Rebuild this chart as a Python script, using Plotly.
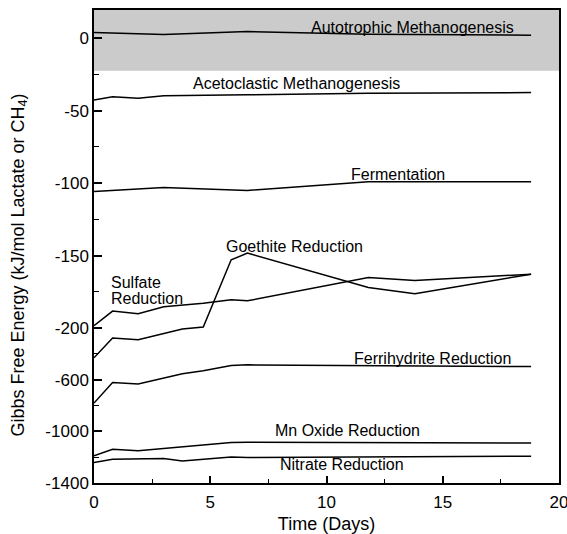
import plotly.graph_objects as go

# ---------------- data ----------------
auto_days = [0, 3.0, 6.6, 11.8, 18.8]
auto_vals = [3.9, 2.6, 4.6, 2.8, 2.1]

aceto_days = [0, 0.8, 1.9, 3.0, 6.6, 11.8, 18.8]
aceto_vals = [-42.6, -40.3, -41.4, -39.6, -39.0, -38.0, -37.5]

ferm_days = [0, 3.0, 6.6, 11.8, 18.8]
ferm_vals = [-105.8, -103.0, -105.0, -99.0, -99.0]

sulf_days = [0, 0.8, 1.9, 3.0, 4.7, 5.9, 6.6, 11.8, 13.8, 18.8]
sulf_vals = [-198.4, -188.3, -190.1, -185.3, -182.8, -180.5, -181.2, -165.1, -167.2, -162.8]

goe_days = [0, 0.8, 1.9, 3.8, 4.7, 5.9, 6.6, 11.8, 13.8, 18.8]
goe_vals = [-430, -277, -291, -208, -199.3, -152.9, -148.3, -172.0, -176.3, -162.8]

ferri_days = [0, 0.8, 1.9, 3.8, 4.7, 5.9, 6.6, 18.8]
ferri_vals = [-781, -622, -634, -554, -531, -490, -485, -498]

mn_days = [0, 0.8, 1.9, 5.9, 6.6, 18.8]
mn_vals = [-1190, -1138, -1151, -1087, -1084, -1091]

nit_days = [0, 0.8, 3.0, 3.8, 5.9, 6.6, 18.8]
nit_vals = [-1242, -1216, -1211, -1229, -1198, -1203, -1192]

y_major = [0, -50, -100, -150, -200, -600, -1000, -1400]
y_minor = [-25, -75, -125, -175, -400, -800, -1200]
x_major = [0, 5, 10, 15, 20]
x_minor = [2.5, 7.5, 12.5, 17.5]

# ---------------- broken (piecewise linear) y scale ----------------
K = 0.0891  # compression of the scale below -200


def tr(v):
    return v if v >= -200 else -200 + (v + 200) * K


series = [
    (auto_days, auto_vals),
    (aceto_days, aceto_vals),
    (ferm_days, ferm_vals),
    (sulf_days, sulf_vals),
    (goe_days, goe_vals),
    (ferri_days, ferri_vals),
    (mn_days, mn_vals),
    (nit_days, nit_vals),
]

FONT = "Liberation Sans, Arial, Helvetica, sans-serif"

fig = go.Figure()
for d, v in series:
    fig.add_trace(go.Scatter(x=d, y=[tr(a) for a in v], mode="lines",
                             line=dict(color="black", width=1.5),
                             showlegend=False, hoverinfo="skip"))

# shaded band
fig.add_shape(type="rect", xref="paper", x0=0, x1=1, yref="y", y0=-22.5, y1=19.5,
              fillcolor="#cbcbcb", line=dict(width=0), layer="below")

labels = [
    ("Autotrophic Methanogenesis", 13.68, 7.6),
    ("Acetoclastic Methanogenesis", 8.73, -31.0),
    ("Fermentation", 13.07, -94.3),
    ("Goethite Reduction", 8.62, -143.7),
    ("Ferrihydrite Reduction", 14.54, -220.7),
    ("Mn Oxide Reduction", 10.92, -270.6),
    ("Nitrate Reduction", 10.67, -294.3),
]
for t, x, y in labels:
    fig.add_annotation(text=t, x=x, y=y, xref="x", yref="y", showarrow=False,
                       font=dict(size=16, color="black", family=FONT),
                       xanchor="center", yanchor="middle")
for t, y in [("Sulfate", -168.4), ("Reduction", -179.6)]:
    fig.add_annotation(text=t, x=0.64, y=y, xref="x", yref="y", showarrow=False,
                       font=dict(size=16, color="black", family=FONT),
                       xanchor="left", yanchor="middle")

# y axis title as annotation
fig.add_annotation(text="Gibbs Free Energy (kJ/mol Lactate or CH<sub>4</sub>)",
                   xref="paper", yref="paper", x=-0.16, y=0.461, textangle=-90,
                   showarrow=False, xanchor="center", yanchor="middle",
                   font=dict(size=18, color="black", family=FONT))

fig.update_xaxes(range=[0, 20], tickvals=x_major, ticktext=[str(v) for v in x_major],
                 ticks="inside", ticklen=7, tickwidth=1.5, tickcolor="black",
                 minor=dict(tickvals=x_minor, ticks="inside", ticklen=4, tickwidth=1.2,
                            tickcolor="black"),
                 showline=True, linecolor="black", linewidth=1.5, mirror=True,
                 showgrid=False, zeroline=False, automargin=False,
                 ticklabeloverflow="allow", ticklabelstandoff=3,
                 tickfont=dict(size=17, color="black", family=FONT),
                 title=dict(text="Time (Days)", font=dict(size=18, color="black", family=FONT),
                            standoff=8))
fig.update_yaxes(range=[tr(-1400), 19.5], tickvals=[tr(v) for v in y_major],
                 ticktext=[str(v) for v in y_major],
                 ticks="inside", ticklen=8, tickwidth=1.5, tickcolor="black",
                 minor=dict(tickvals=[tr(v) for v in y_minor], ticks="inside", ticklen=5,
                            tickwidth=1.2, tickcolor="black"),
                 showline=True, linecolor="black", linewidth=1.5, mirror=True,
                 showgrid=False, zeroline=False, automargin=False,
                 ticklabeloverflow="allow",
                 tickfont=dict(size=17, color="black", family=FONT))

fig.update_layout(width=567, height=534, margin=dict(l=94, r=8, t=10, b=51),
                  plot_bgcolor="white", paper_bgcolor="white",
                  font=dict(family=FONT, color="black"))

fig.write_html("out.html")
